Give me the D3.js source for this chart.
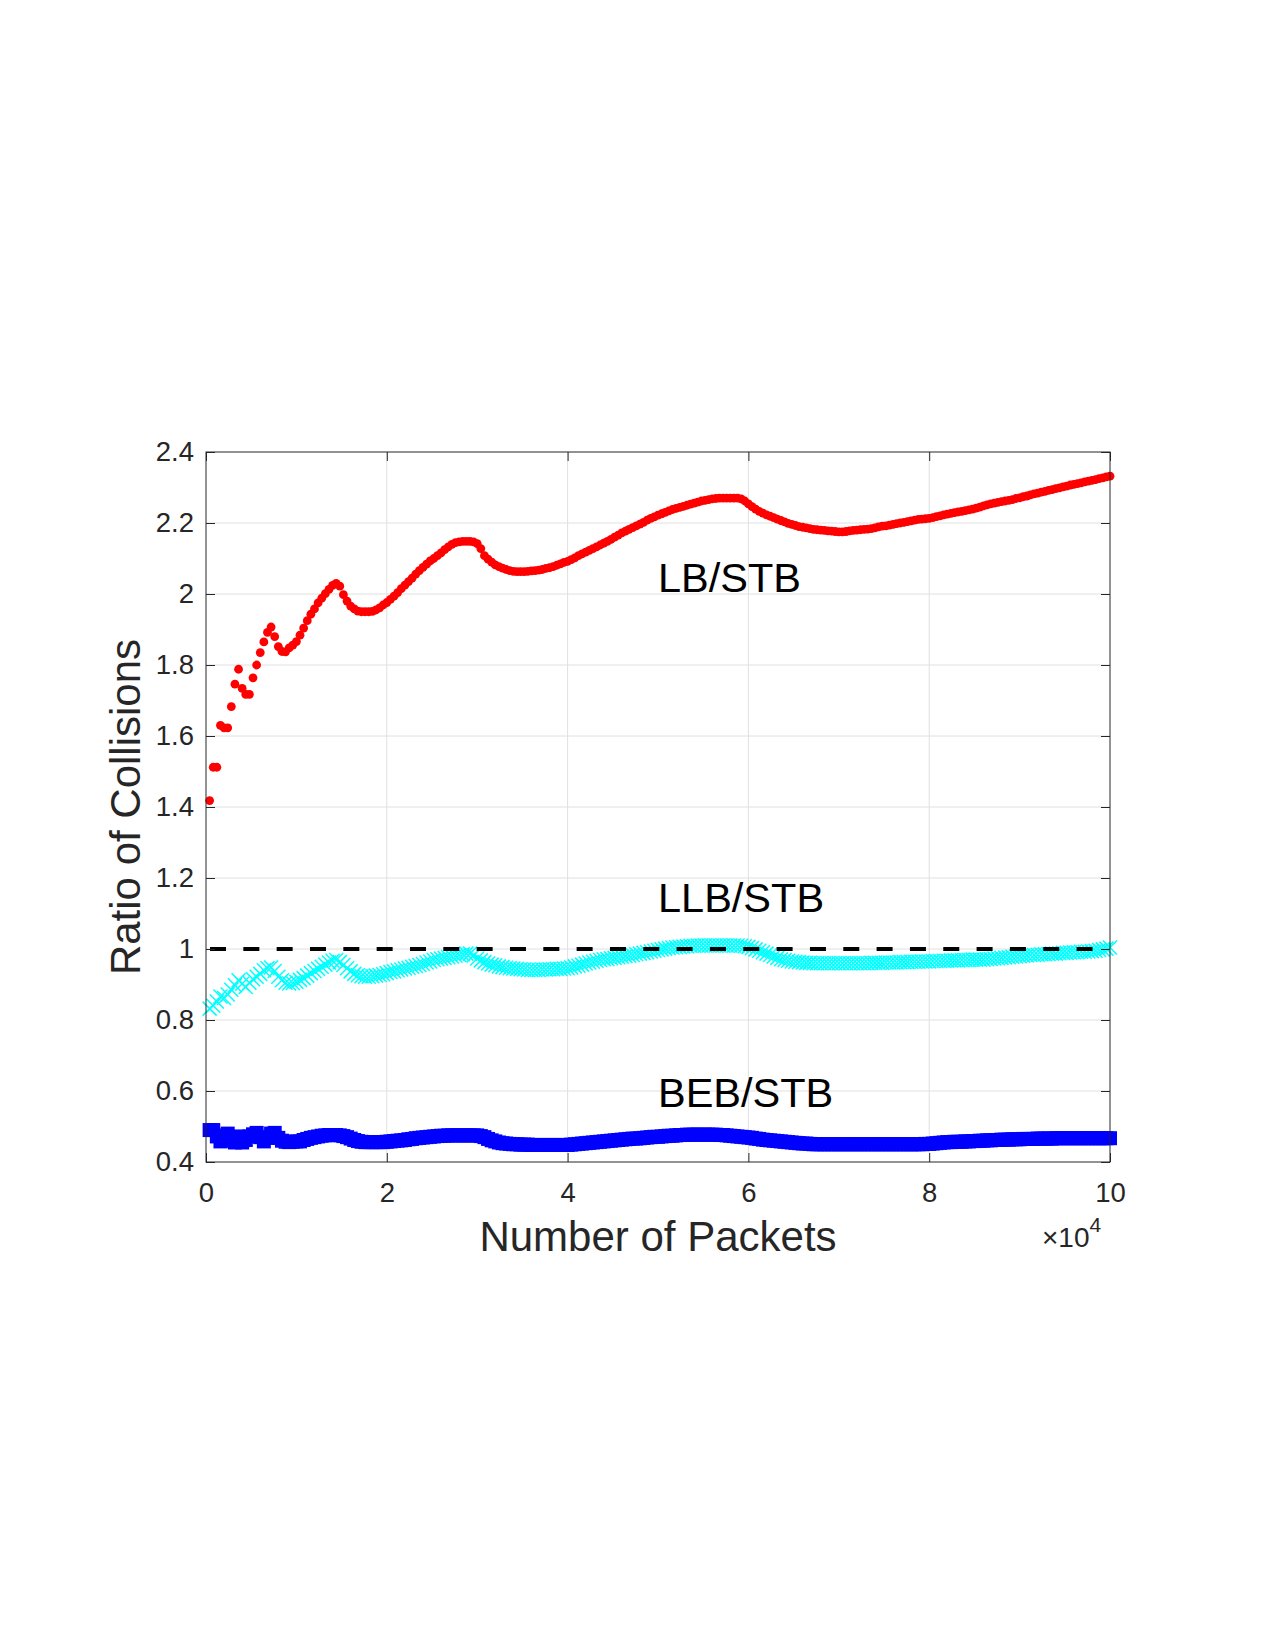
<!DOCTYPE html>
<html>
<head>
<meta charset="utf-8">
<script src="https://cdn.jsdelivr.net/npm/d3@7"></script>
<style>
  body { margin: 0; background: #fff; }
  svg { display: block; }
  text { font-family: "Liberation Sans", Arial, Helvetica, sans-serif; }
</style>
</head>
<body>
<div id="chart"></div>
<script>
// packets sampled every 400
const packets = d3.range(1, 251).map(i => i * 400);

const lbRatio = [
  1.418,1.512,1.512,1.630,1.623,1.623,1.683,1.746,1.788,1.734,
  1.717,1.717,1.764,1.800,1.835,1.865,1.892,1.907,1.880,1.852,
  1.838,1.837,1.848,1.856,1.866,1.884,1.904,1.925,1.943,1.958,
  1.975,1.988,2.001,2.013,2.024,2.030,2.022,1.998,1.980,1.966,
  1.958,1.952,1.950,1.950,1.950,1.951,1.955,1.961,1.969,1.976,
  1.985,1.994,2.004,2.015,2.025,2.035,2.045,2.056,2.066,2.075,
  2.084,2.093,2.100,2.108,2.116,2.125,2.133,2.140,2.145,2.147,
  2.148,2.148,2.148,2.147,2.142,2.128,2.108,2.098,2.090,2.082,
  2.077,2.073,2.069,2.066,2.064,2.063,2.063,2.063,2.064,2.065,
  2.066,2.067,2.069,2.072,2.074,2.077,2.081,2.085,2.089,2.092,
  2.097,2.102,2.108,2.113,2.118,2.123,2.128,2.133,2.138,2.143,
  2.148,2.154,2.160,2.166,2.172,2.177,2.182,2.187,2.192,2.197,
  2.202,2.208,2.213,2.217,2.222,2.226,2.230,2.234,2.238,2.241,
  2.244,2.247,2.250,2.253,2.256,2.259,2.262,2.264,2.266,2.268,
  2.269,2.270,2.270,2.270,2.270,2.270,2.270,2.268,2.262,2.254,
  2.246,2.239,2.233,2.228,2.223,2.219,2.215,2.211,2.207,2.203,
  2.199,2.196,2.193,2.190,2.188,2.186,2.184,2.182,2.181,2.180,
  2.179,2.178,2.177,2.176,2.175,2.175,2.176,2.178,2.179,2.180,
  2.181,2.182,2.183,2.184,2.186,2.189,2.191,2.192,2.194,2.196,
  2.198,2.200,2.202,2.204,2.206,2.208,2.210,2.211,2.212,2.213,
  2.215,2.218,2.220,2.223,2.225,2.227,2.229,2.231,2.233,2.235,
  2.237,2.239,2.242,2.245,2.248,2.251,2.254,2.256,2.258,2.260,
  2.262,2.264,2.266,2.269,2.271,2.274,2.276,2.279,2.282,2.284,
  2.287,2.289,2.292,2.294,2.297,2.299,2.302,2.304,2.307,2.309,
  2.311,2.313,2.316,2.318,2.320,2.322,2.325,2.327,2.330,2.332
];

const llbRatio = [
  0.832,0.840,0.852,0.866,0.862,0.872,0.885,0.898,0.912,0.902,
  0.893,0.905,0.915,0.922,0.930,0.940,0.946,0.948,0.938,0.922,
  0.912,0.905,0.903,0.904,0.908,0.913,0.918,0.925,0.932,0.938,
  0.944,0.950,0.956,0.962,0.967,0.969,0.963,0.955,0.946,0.937,
  0.930,0.926,0.923,0.922,0.922,0.923,0.925,0.927,0.929,0.932,
  0.935,0.937,0.940,0.942,0.945,0.947,0.950,0.952,0.955,0.958,
  0.962,0.965,0.969,0.971,0.973,0.975,0.977,0.979,0.981,0.983,
  0.985,0.987,0.987,0.982,0.973,0.968,0.963,0.959,0.956,0.954,
  0.951,0.949,0.947,0.946,0.945,0.944,0.943,0.942,0.941,0.941,
  0.941,0.941,0.942,0.942,0.943,0.943,0.944,0.944,0.945,0.946,
  0.948,0.951,0.953,0.956,0.959,0.962,0.964,0.967,0.969,0.971,
  0.972,0.974,0.975,0.977,0.978,0.980,0.981,0.983,0.985,0.987,
  0.989,0.991,0.993,0.995,0.997,0.999,1.001,1.003,1.004,1.005,
  1.006,1.007,1.008,1.009,1.009,1.010,1.010,1.010,1.010,1.010,
  1.010,1.010,1.010,1.010,1.010,1.010,1.010,1.009,1.008,1.006,
  1.003,0.999,0.995,0.991,0.987,0.983,0.979,0.975,0.971,0.969,
  0.967,0.965,0.964,0.963,0.962,0.961,0.961,0.960,0.960,0.960,
  0.960,0.960,0.960,0.960,0.960,0.960,0.960,0.960,0.960,0.960,
  0.960,0.960,0.960,0.961,0.961,0.961,0.961,0.962,0.962,0.962,
  0.962,0.963,0.963,0.963,0.964,0.964,0.964,0.965,0.965,0.965,
  0.966,0.966,0.966,0.967,0.967,0.968,0.968,0.968,0.969,0.969,
  0.969,0.970,0.970,0.970,0.970,0.971,0.972,0.973,0.974,0.975,
  0.976,0.977,0.978,0.979,0.980,0.981,0.982,0.983,0.983,0.984,
  0.985,0.985,0.986,0.987,0.987,0.988,0.989,0.989,0.990,0.991,
  0.991,0.992,0.992,0.993,0.994,0.995,0.997,0.999,1.001,1.004
];

const bebRatio = [
  0.490,0.490,0.472,0.458,0.475,0.480,0.460,0.455,0.472,0.455,
  0.462,0.472,0.478,0.482,0.470,0.458,0.468,0.480,0.482,0.468,
  0.460,0.457,0.456,0.457,0.458,0.458,0.462,0.465,0.468,0.470,
  0.472,0.474,0.475,0.476,0.476,0.476,0.475,0.473,0.470,0.466,
  0.462,0.459,0.457,0.456,0.456,0.456,0.456,0.456,0.456,0.457,
  0.458,0.459,0.460,0.461,0.462,0.464,0.465,0.467,0.468,0.469,
  0.470,0.471,0.472,0.473,0.474,0.474,0.475,0.475,0.475,0.475,
  0.475,0.475,0.475,0.475,0.475,0.473,0.470,0.465,0.461,0.458,
  0.455,0.453,0.452,0.451,0.450,0.450,0.449,0.449,0.449,0.448,
  0.448,0.448,0.448,0.448,0.448,0.448,0.448,0.448,0.448,0.448,
  0.449,0.450,0.451,0.452,0.453,0.454,0.455,0.456,0.457,0.458,
  0.459,0.460,0.461,0.462,0.463,0.464,0.465,0.466,0.466,0.467,
  0.468,0.469,0.470,0.471,0.471,0.472,0.473,0.474,0.474,0.475,
  0.476,0.476,0.477,0.477,0.477,0.477,0.477,0.477,0.477,0.477,
  0.477,0.476,0.476,0.475,0.474,0.473,0.472,0.471,0.470,0.469,
  0.468,0.466,0.465,0.463,0.462,0.461,0.460,0.459,0.458,0.457,
  0.456,0.455,0.454,0.453,0.452,0.452,0.451,0.450,0.450,0.450,
  0.450,0.450,0.450,0.450,0.450,0.450,0.450,0.450,0.450,0.450,
  0.450,0.450,0.450,0.450,0.450,0.450,0.450,0.450,0.450,0.450,
  0.450,0.450,0.450,0.450,0.450,0.450,0.450,0.450,0.451,0.451,
  0.452,0.453,0.454,0.455,0.456,0.456,0.457,0.457,0.457,0.458,
  0.458,0.459,0.459,0.460,0.460,0.461,0.461,0.462,0.462,0.463,
  0.463,0.463,0.464,0.464,0.464,0.465,0.465,0.465,0.465,0.466,
  0.466,0.466,0.466,0.466,0.467,0.467,0.467,0.467,0.467,0.467,
  0.467,0.467,0.467,0.467,0.467,0.467,0.467,0.467,0.467,0.467
];

const xTicks = [0, 20000, 40000, 60000, 80000, 100000];
const yTicks = [0.4, 0.6, 0.8, 1.0, 1.2, 1.4, 1.6, 1.8, 2.0, 2.2, 2.4];
const refLine = [[0, 1], [100000, 1]];

// curve labels, placed in data units
const labelText = ["LB/STB", "LLB/STB", "BEB/STB"];
const labelX = [50000, 50000, 50000];
const labelY = [2.05, 1.15, 0.6];

const W = 1275, H = 1650;
const margin = { left: 206, top: 452 };
const width = 904, height = 710;

const svg = d3.select('#chart').append('svg')
  .attr('width', W)
  .attr('height', H);

svg.append('rect').attr('width', W).attr('height', H).attr('fill', '#fff');

const g = svg.append('g').attr('transform', `translate(${margin.left},${margin.top})`);

const x = d3.scaleLinear().domain([0, 100000]).range([0, width]);
const y = d3.scaleLinear().domain([0.4, 2.4]).range([height, 0]);

// grid
g.append('g').selectAll('line')
  .data(xTicks.slice(1, -1))
  .enter().append('line')
  .attr('x1', d => x(d)).attr('x2', d => x(d))
  .attr('y1', 0).attr('y2', height)
  .attr('stroke', '#e0e0e0').attr('stroke-width', 1);

g.append('g').selectAll('line')
  .data(yTicks.slice(1, -1))
  .enter().append('line')
  .attr('x1', 0).attr('x2', width)
  .attr('y1', d => y(d)).attr('y2', d => y(d))
  .attr('stroke', '#e0e0e0').attr('stroke-width', 1);

// LB/STB - red dots
g.append('g').selectAll('circle')
  .data(packets.map((p, i) => [p, lbRatio[i]]))
  .enter().append('circle')
  .attr('cx', d => x(d[0]))
  .attr('cy', d => y(d[1]))
  .attr('r', 4.4)
  .attr('fill', '#ff0000');

// LLB/STB - cyan crosses
g.append('g').selectAll('path')
  .data(packets.map((p, i) => [p, llbRatio[i]]))
  .enter().append('path')
  .attr('transform', d => `translate(${x(d[0])},${y(d[1])})`)
  .attr('d', 'M-7,-7L7,7M-7,7L7,-7')
  .attr('stroke', '#00ffff')
  .attr('stroke-width', 1.5)
  .attr('fill', 'none');

// BEB/STB - blue squares
g.append('g').selectAll('rect')
  .data(packets.map((p, i) => [p, bebRatio[i]]))
  .enter().append('rect')
  .attr('x', d => x(d[0]) - 7)
  .attr('y', d => y(d[1]) - 7)
  .attr('width', 14)
  .attr('height', 14)
  .attr('fill', '#0000ff');

// ratio = 1 reference
g.append('path')
  .datum(refLine)
  .attr('d', d3.line().x(d => x(d[0])).y(d => y(d[1])))
  .attr('stroke', '#000')
  .attr('stroke-width', 4)
  .attr('stroke-dasharray', '16,17.33')
  .attr('stroke-dashoffset', 29.33)
  .attr('fill', 'none');

// axes, ticks pointing inward on all four sides
const tickLen = 9;
const fmtX = d => d / 10000;

g.append('g')
  .attr('transform', `translate(0,${height})`)
  .call(d3.axisBottom(x).tickValues(xTicks).tickFormat(fmtX).tickSizeInner(-tickLen).tickSizeOuter(0).tickPadding(20.5));
g.append('g')
  .call(d3.axisTop(x).tickValues(xTicks).tickFormat('').tickSizeInner(-tickLen).tickSizeOuter(0));
g.append('g')
  .call(d3.axisLeft(y).tickValues(yTicks).tickFormat(d3.format('~g')).tickSizeInner(-tickLen).tickSizeOuter(0).tickPadding(12));
g.append('g')
  .attr('transform', `translate(${width},0)`)
  .call(d3.axisRight(y).tickValues(yTicks).tickFormat('').tickSizeInner(-tickLen).tickSizeOuter(0));

g.selectAll('.domain').remove();
g.selectAll('.tick line').attr('stroke', '#262626');
g.selectAll('.tick text')
  .attr('fill', '#262626')
  .style('font-size', '27.5px');

g.append('rect')
  .attr('width', width).attr('height', height)
  .attr('fill', 'none')
  .attr('stroke', '#262626')
  .attr('stroke-width', 1);

// curve labels
g.append('g').selectAll('text')
  .data(labelText)
  .enter().append('text')
  .attr('x', (d, i) => x(labelX[i]))
  .attr('y', (d, i) => y(labelY[i]))
  .attr('dy', '0.38em')
  .style('font-size', '41.5px')
  .attr('fill', '#000')
  .text(d => d);

// axis titles
svg.append('text')
  .attr('x', margin.left + width / 2)
  .attr('y', 1251)
  .attr('text-anchor', 'middle')
  .style('font-size', '42px')
  .attr('fill', '#262626')
  .text('Number of Packets');

svg.append('text')
  .attr('transform', `translate(140,${margin.top + height / 2}) rotate(-90)`)
  .attr('text-anchor', 'middle')
  .style('font-size', '42px')
  .attr('fill', '#262626')
  .text('Ratio of Collisions');

// x10^4 exponent
const expo = svg.append('text')
  .attr('x', 1042)
  .attr('y', 1247)
  .attr('fill', '#262626')
  .style('font-size', '28px');
expo.append('tspan').text('\u00d710');
expo.append('tspan').attr('dy', -15).style('font-size', '21px').text('4');
</script>
</body>
</html>
